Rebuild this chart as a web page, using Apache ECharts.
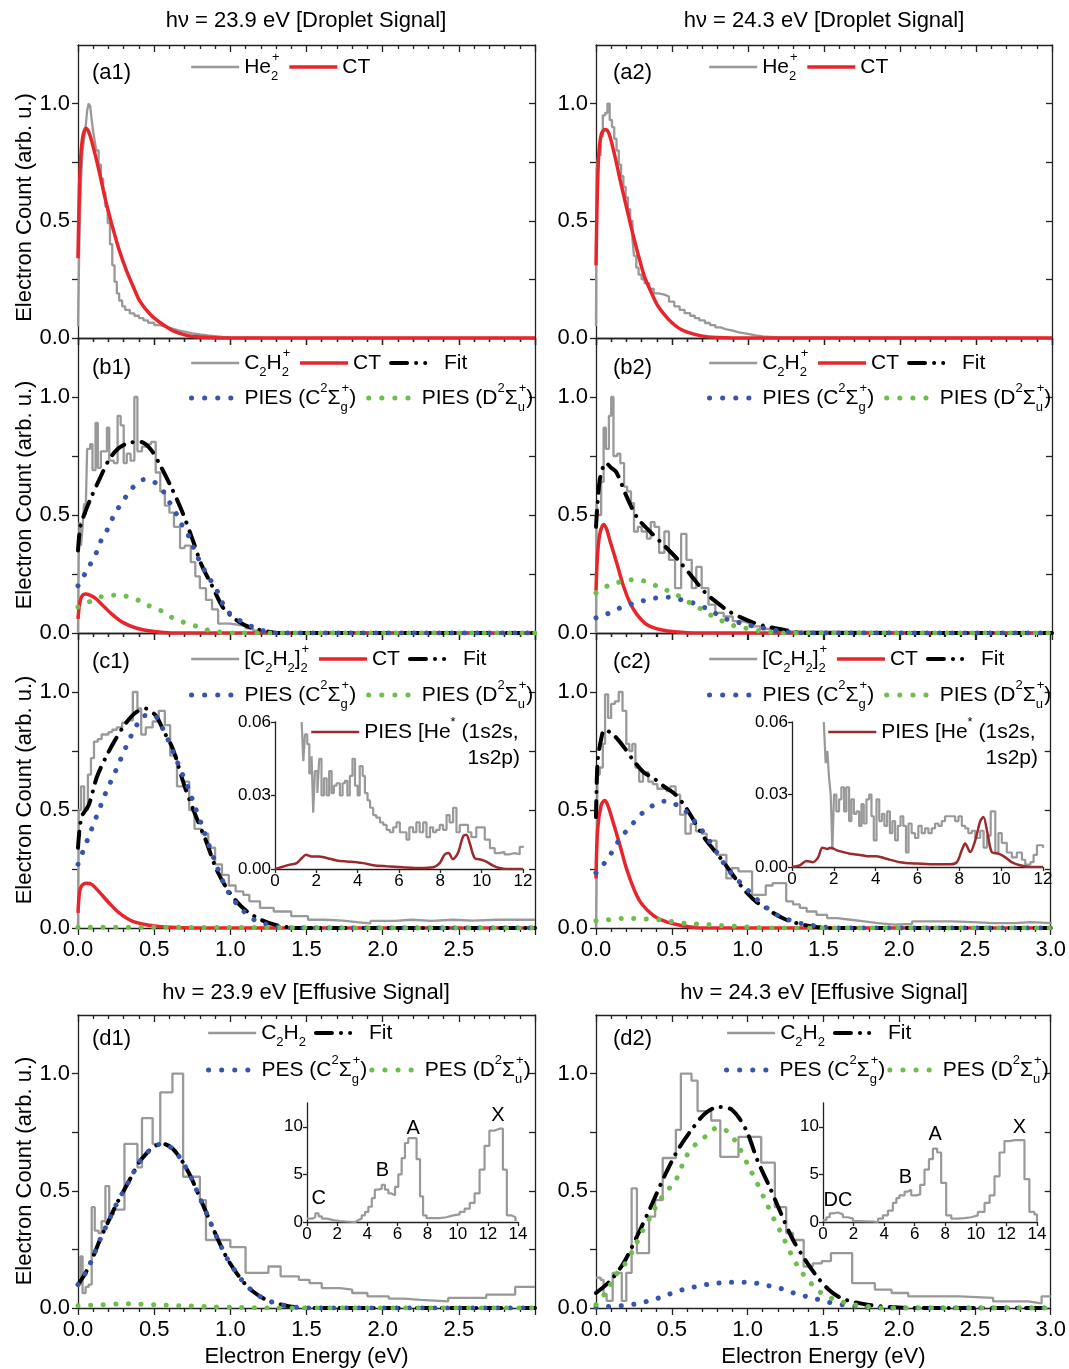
<!DOCTYPE html>
<html><head><meta charset="utf-8">
<script src="https://cdn.jsdelivr.net/npm/echarts@6/dist/echarts.min.js"></script>
<style>html,body{margin:0;padding:0;background:#fff}#c{width:1069px;height:1369px}</style>
</head><body><div id="c"></div>
<script>
// ---------------- DATA ----------------
// (a1) hv = 23.9 eV droplet, He2+ histogram and CT fit
const a1_He2 = [[0,0.05],[0.01,0.45],[0.02,0.68],[0.03,0.8],[0.04,0.85],[0.05,0.9],[0.06,0.97],[0.07,1.0],[0.08,0.99],[0.09,0.93],[0.1,0.88],[0.11,0.84],[0.12,0.8],[0.135,0.74],[0.15,0.68],[0.165,0.62],[0.18,0.56],[0.195,0.49],[0.21,0.4],[0.225,0.31],[0.24,0.24],[0.255,0.19],[0.27,0.16],[0.29,0.135],[0.31,0.12],[0.34,0.105],[0.37,0.095],[0.4,0.085],[0.43,0.075],[0.46,0.065],[0.5,0.055],[0.54,0.047],[0.58,0.04],[0.62,0.033],[0.66,0.027],[0.7,0.02],[0.75,0.015],[0.8,0.011],[0.85,0.008],[0.9,0.005],[0.95,0.003],[1.0,0.002],[1.1,0.001],[1.2,0],[3,0]];
const a1_CT = [[0,0.34],[0.008,0.6],[0.018,0.77],[0.032,0.86],[0.052,0.895],[0.07,0.88],[0.09,0.84],[0.136,0.72],[0.18,0.59],[0.226,0.475],[0.27,0.376],[0.317,0.29],[0.362,0.22],[0.407,0.156],[0.475,0.1],[0.543,0.064],[0.633,0.028],[0.724,0.01],[0.837,0.003],[0.95,0],[3,0]];
// (a2) hv = 24.3 eV droplet
const a2_He2 = [[0,0.05],[0.004,0.72],[0.015,0.78],[0.03,0.86],[0.045,0.95],[0.06,0.96],[0.075,1.0],[0.09,0.93],[0.105,0.9],[0.12,0.85],[0.135,0.8],[0.15,0.74],[0.165,0.69],[0.18,0.645],[0.195,0.6],[0.21,0.55],[0.225,0.5],[0.24,0.42],[0.25,0.35],[0.265,0.3],[0.28,0.27],[0.3,0.25],[0.32,0.234],[0.35,0.21],[0.38,0.19],[0.41,0.185],[0.45,0.177],[0.48,0.155],[0.515,0.135],[0.55,0.12],[0.583,0.106],[0.62,0.095],[0.65,0.085],[0.68,0.075],[0.717,0.064],[0.75,0.055],[0.785,0.045],[0.82,0.038],[0.852,0.031],[0.9,0.024],[0.94,0.018],[1.0,0.011],[1.05,0.007],[1.1,0.003],[1.2,0],[3,0]];
const a2_CT = [[0,0.31],[0.008,0.6],[0.018,0.78],[0.035,0.87],[0.06,0.89],[0.08,0.88],[0.1,0.84],[0.13,0.76],[0.16,0.67],[0.2,0.56],[0.24,0.45],[0.28,0.35],[0.32,0.26],[0.36,0.2],[0.4,0.145],[0.45,0.1],[0.5,0.065],[0.55,0.04],[0.6,0.025],[0.7,0.008],[0.8,0.002],[0.9,0],[3,0]];
// (b1)
const b1_C2H2 = [[0,0],[0.004,0.3],[0.01,0.47],[0.02,0.37],[0.03,0.45],[0.04,0.55],[0.05,0.5],[0.06,0.78],[0.08,0.8],[0.095,0.69],[0.115,0.89],[0.13,0.7],[0.15,0.77],[0.19,0.87],[0.205,0.73],[0.235,0.72],[0.26,0.92],[0.28,0.88],[0.3,0.72],[0.32,0.76],[0.345,0.73],[0.37,1.0],[0.39,0.77],[0.42,0.79],[0.45,0.8],[0.48,0.81],[0.51,0.68],[0.54,0.6],[0.57,0.54],[0.6,0.51],[0.63,0.45],[0.67,0.36],[0.7,0.37],[0.74,0.3],[0.77,0.24],[0.8,0.19],[0.84,0.14],[0.88,0.1],[0.92,0.04],[0.96,0.04],[1.0,0.035],[1.05,0.03],[1.1,0.02],[1.15,0.01],[1.2,0.005],[1.27,0],[3,0]];
const b1_CT = [[0,0.06],[0.01,0.12],[0.025,0.155],[0.05,0.165],[0.07,0.163],[0.113,0.148],[0.158,0.12],[0.226,0.078],[0.294,0.045],[0.385,0.02],[0.5,0.006],[0.61,0],[3,0]];
const b1_Fit = [[0,0.35],[0.015,0.45],[0.04,0.5],[0.09,0.58],[0.147,0.66],[0.2,0.73],[0.26,0.78],[0.33,0.805],[0.41,0.81],[0.475,0.78],[0.54,0.71],[0.61,0.62],[0.68,0.52],[0.75,0.4],[0.81,0.29],[0.88,0.2],[0.95,0.11],[1.02,0.064],[1.09,0.035],[1.15,0.02],[1.24,0.007],[1.31,0],[3,0]];
const b1_PC = [[0,0.2],[0.045,0.25],[0.08,0.29],[0.12,0.34],[0.15,0.39],[0.19,0.435],[0.226,0.486],[0.265,0.53],[0.31,0.573],[0.35,0.61],[0.43,0.65],[0.5,0.64],[0.56,0.6],[0.6,0.555],[0.645,0.505],[0.68,0.46],[0.72,0.42],[0.753,0.37],[0.787,0.32],[0.826,0.27],[0.864,0.23],[0.905,0.19],[0.946,0.13],[0.984,0.09],[1.07,0.05],[1.15,0.025],[1.23,0.007],[1.31,0],[3,0]];
const b1_PD = [[0,0.11],[0.08,0.134],[0.16,0.155],[0.24,0.16],[0.32,0.155],[0.4,0.138],[0.46,0.117],[0.54,0.096],[0.61,0.068],[0.695,0.045],[0.78,0.028],[0.86,0.011],[0.94,0.004],[1.02,0],[3,0]];
// (b2)
const b2_C2H2 = [[0,0],[0.003,0.55],[0.015,0.5],[0.034,0.64],[0.05,0.87],[0.065,0.78],[0.085,0.92],[0.1,1.0],[0.115,0.75],[0.14,0.76],[0.16,0.72],[0.185,0.62],[0.205,0.6],[0.23,0.55],[0.25,0.43],[0.275,0.45],[0.3,0.43],[0.335,0.4],[0.36,0.47],[0.385,0.45],[0.415,0.34],[0.45,0.43],[0.48,0.31],[0.52,0.19],[0.56,0.42],[0.595,0.31],[0.63,0.19],[0.66,0.28],[0.695,0.19],[0.74,0.12],[0.785,0.085],[0.84,0.07],[0.9,0.05],[0.96,0.042],[1.01,0.028],[1.08,0.017],[1.17,0.007],[1.28,0],[3,0]];
const b2_CT = [[0,0.18],[0.01,0.33],[0.025,0.42],[0.05,0.46],[0.07,0.44],[0.09,0.395],[0.135,0.3],[0.18,0.2],[0.224,0.127],[0.27,0.078],[0.336,0.035],[0.426,0.014],[0.54,0.004],[0.65,0],[3,0]];
const b2_Fit = [[0,0.45],[0.01,0.55],[0.025,0.65],[0.05,0.71],[0.065,0.72],[0.1,0.7],[0.135,0.68],[0.2,0.58],[0.27,0.49],[0.37,0.42],[0.45,0.37],[0.54,0.31],[0.63,0.24],[0.72,0.17],[0.8,0.127],[0.874,0.092],[0.953,0.066],[1.03,0.045],[1.12,0.028],[1.21,0.017],[1.32,0.003],[1.4,0],[3,0]];
const b2_PC = [[0,0.064],[0.078,0.082],[0.157,0.106],[0.235,0.123],[0.314,0.137],[0.392,0.148],[0.478,0.151],[0.56,0.141],[0.64,0.127],[0.72,0.106],[0.8,0.078],[0.874,0.055],[0.953,0.042],[1.03,0.03],[1.11,0.02],[1.19,0.01],[1.28,0.003],[1.36,0],[3,0]];
const b2_PD = [[0,0.17],[0.078,0.2],[0.157,0.216],[0.242,0.226],[0.318,0.22],[0.397,0.2],[0.47,0.18],[0.55,0.155],[0.62,0.127],[0.695,0.1],[0.762,0.073],[0.834,0.05],[0.908,0.031],[0.987,0.02],[1.065,0.01],[1.14,0.004],[1.22,0],[3,0]];
// (c1)
const c1_Dim = [[0,0],[0.005,0.5],[0.02,0.6],[0.04,0.5],[0.065,0.65],[0.085,0.72],[0.105,0.79],[0.13,0.8],[0.155,0.82],[0.2,0.83],[0.225,0.84],[0.255,0.85],[0.29,0.87],[0.325,0.88],[0.36,1.0],[0.39,0.93],[0.415,0.82],[0.445,0.85],[0.49,0.875],[0.53,0.92],[0.57,0.86],[0.605,0.73],[0.65,0.6],[0.695,0.62],[0.73,0.5],[0.765,0.42],[0.81,0.4],[0.855,0.34],[0.9,0.27],[0.945,0.225],[0.99,0.18],[1.035,0.155],[1.085,0.14],[1.125,0.113],[1.195,0.085],[1.285,0.07],[1.4,0.05],[1.51,0.035],[1.62,0.031],[1.74,0.025],[1.83,0.02],[1.92,0.03],[2.08,0.035],[2.19,0.03],[2.32,0.035],[2.46,0.031],[2.59,0.035],[2.75,0.035],[3,0.035]];
const c1_CT = [[0,0.064],[0.01,0.15],[0.025,0.18],[0.057,0.19],[0.09,0.185],[0.136,0.155],[0.204,0.106],[0.27,0.064],[0.36,0.028],[0.476,0.011],[0.61,0.003],[0.75,0],[3,0]];
const c1_Fit = [[0,0.34],[0.023,0.47],[0.07,0.52],[0.124,0.64],[0.18,0.72],[0.238,0.79],[0.305,0.86],[0.373,0.91],[0.44,0.93],[0.51,0.9],[0.566,0.83],[0.622,0.76],[0.7,0.6],[0.77,0.48],[0.84,0.37],[0.905,0.254],[0.975,0.17],[1.04,0.113],[1.11,0.07],[1.2,0.035],[1.29,0.014],[1.38,0.003],[1.46,0],[3,0]];
const c1_PC = [[0,0.27],[0.03,0.32],[0.06,0.37],[0.09,0.42],[0.12,0.47],[0.15,0.52],[0.18,0.57],[0.215,0.62],[0.25,0.67],[0.283,0.72],[0.317,0.77],[0.353,0.82],[0.396,0.87],[0.44,0.9],[0.5,0.9],[0.544,0.86],[0.59,0.8],[0.635,0.73],[0.68,0.66],[0.726,0.59],[0.77,0.51],[0.816,0.43],[0.86,0.35],[0.907,0.27],[0.95,0.2],[0.998,0.14],[1.066,0.085],[1.156,0.035],[1.247,0.014],[1.34,0.003],[1.43,0],[3,0]];
const c1_PD = [[0,0.003],[0.5,0.003],[1.0,0.002],[1.5,0.001],[2.0,0],[3,0]];
const c1in_Dim = [[1.29,0.06],[1.37,0.044],[1.45,0.055],[1.56,0.051],[1.66,0.039],[1.77,0.046],[1.85,0.023],[1.93,0.04],[2.05,0.031],[2.14,0.045],[2.25,0.03],[2.37,0.037],[2.5,0.03],[2.62,0.04],[2.74,0.031],[2.85,0.034],[2.98,0.035],[3.14,0.03],[3.27,0.035],[3.38,0.036],[3.5,0.03],[3.62,0.038],[3.75,0.045],[3.87,0.034],[4.0,0.03],[4.1,0.042],[4.24,0.038],[4.35,0.031],[4.48,0.028],[4.6,0.025],[4.75,0.022],[4.9,0.021],[5.08,0.019],[5.24,0.018],[5.4,0.016],[5.56,0.015],[5.72,0.017],[5.88,0.019],[6.04,0.015],[6.2,0.015],[6.36,0.012],[6.5,0.017],[6.68,0.015],[6.84,0.019],[7.0,0.015],[7.17,0.019],[7.33,0.013],[7.5,0.017],[7.65,0.015],[7.8,0.016],[7.97,0.018],[8.13,0.016],[8.3,0.022],[8.45,0.019],[8.62,0.025],[8.78,0.015],[8.94,0.018],[9.18,0.018],[9.34,0.015],[9.5,0.013],[9.74,0.017],[9.98,0.017],[10.15,0.012],[10.4,0.0085],[10.63,0.0065],[10.87,0.007],[11.1,0.006],[11.35,0.0065],[11.6,0.006],[11.84,0.009],[12,0.0095]];
const c1in_He = [[0,0],[0.4,0.001],[0.72,0.0018],[1.05,0.0024],[1.3,0.0045],[1.5,0.0058],[1.77,0.0051],[2.1,0.0051],[2.5,0.0045],[2.98,0.0035],[3.46,0.0031],[3.95,0.0028],[4.27,0.0024],[4.75,0.0015],[5.4,0.0011],[6.2,0.0007],[7.0,0.0004],[7.65,0.0007],[7.97,0.0024],[8.2,0.0058],[8.4,0.0065],[8.6,0.004],[8.85,0.0065],[9.1,0.0133],[9.26,0.014],[9.42,0.0106],[9.66,0.0045],[9.98,0.0038],[10.2,0.0031],[10.55,0.0014],[10.87,0.0004],[11.2,0],[12,0]];
// (c2)
const c2_Dim = [[0,0],[0.004,0.25],[0.01,0.65],[0.025,0.68],[0.045,0.78],[0.06,0.99],[0.08,0.89],[0.1,0.95],[0.125,0.96],[0.15,1.0],[0.175,0.92],[0.2,0.78],[0.22,0.75],[0.24,0.78],[0.26,0.68],[0.285,0.62],[0.31,0.66],[0.345,0.62],[0.375,0.61],[0.405,0.59],[0.465,0.58],[0.49,0.6],[0.525,0.565],[0.555,0.48],[0.59,0.4],[0.625,0.44],[0.66,0.41],[0.695,0.4],[0.73,0.37],[0.795,0.31],[0.86,0.21],[0.895,0.254],[0.94,0.24],[1.03,0.14],[1.12,0.18],[1.165,0.19],[1.255,0.113],[1.3,0.1],[1.345,0.085],[1.39,0.07],[1.455,0.056],[1.525,0.042],[1.59,0.035],[1.68,0.028],[1.77,0.021],[1.86,0.014],[1.97,0.017],[2.085,0.028],[2.22,0.028],[2.35,0.025],[2.49,0.021],[2.62,0.021],[2.76,0.025],[2.87,0.021],[3,0.025]];
const c2_CT = [[0,0.21],[0.011,0.42],[0.034,0.52],[0.056,0.54],[0.078,0.52],[0.112,0.45],[0.157,0.353],[0.2,0.254],[0.247,0.17],[0.29,0.113],[0.348,0.07],[0.404,0.042],[0.47,0.025],[0.54,0.014],[0.605,0.006],[0.7,0],[3,0]];
const c2_Fit = [[0,0.47],[0.005,0.62],[0.013,0.72],[0.034,0.8],[0.056,0.84],[0.112,0.82],[0.18,0.77],[0.247,0.71],[0.314,0.66],[0.38,0.635],[0.448,0.6],[0.516,0.57],[0.583,0.52],[0.65,0.45],[0.717,0.38],[0.785,0.325],[0.852,0.27],[0.92,0.21],[0.987,0.155],[1.054,0.113],[1.12,0.085],[1.19,0.056],[1.255,0.035],[1.323,0.021],[1.39,0.011],[1.457,0.004],[1.55,0],[3,0]];
const c2_PC = [[0,0.233],[0.05,0.27],[0.094,0.31],[0.14,0.36],[0.186,0.4],[0.24,0.44],[0.294,0.48],[0.365,0.515],[0.448,0.537],[0.52,0.525],[0.583,0.5],[0.64,0.46],[0.695,0.417],[0.75,0.367],[0.807,0.31],[0.874,0.245],[0.94,0.2],[1.01,0.155],[1.076,0.113],[1.143,0.078],[1.21,0.05],[1.29,0.031],[1.368,0.017],[1.435,0.01],[1.5,0.004],[1.6,0],[3,0]];
const c2_PD = [[0,0.031],[0.078,0.035],[0.168,0.04],[0.247,0.04],[0.325,0.038],[0.415,0.035],[0.493,0.028],[0.583,0.02],[0.66,0.017],[0.74,0.014],[0.83,0.01],[0.92,0.007],[1.01,0.004],[1.15,0],[3,0]];
const c2in_Dim = [[1.52,0.06],[1.61,0.043],[1.69,0.048],[1.77,0.037],[1.85,0.03],[1.93,0.007],[2.01,0.03],[2.12,0.023],[2.25,0.028],[2.36,0.033],[2.49,0.023],[2.6,0.033],[2.73,0.019],[2.84,0.028],[2.96,0.022],[3.08,0.023],[3.21,0.017],[3.32,0.026],[3.43,0.018],[3.56,0.028],[3.69,0.03],[3.8,0.021],[3.91,0.011],[4.04,0.028],[4.17,0.019],[4.3,0.022],[4.42,0.017],[4.55,0.023],[4.68,0.014],[4.8,0.019],[4.93,0.011],[5.06,0.017],[5.19,0.021],[5.32,0.017],[5.45,0.006],[5.57,0.018],[5.72,0.014],[5.88,0.012],[6.04,0.017],[6.2,0.014],[6.36,0.016],[6.52,0.014],[6.68,0.016],[6.84,0.018],[7.0,0.017],[7.16,0.019],[7.32,0.021],[7.55,0.021],[7.8,0.019],[7.96,0.021],[8.12,0.017],[8.28,0.016],[8.43,0.014],[8.6,0.015],[8.76,0.012],[9.0,0.015],[9.16,0.008],[9.32,0.013],[9.5,0.023],[9.72,0.006],[9.87,0.014],[10.03,0.01],[10.27,0.006],[10.51,0.004],[10.75,0.006],[10.99,0.003],[11.15,0.001],[11.4,0.002],[11.55,0.005],[11.71,0.009],[12,0.008]];
const c2in_He = [[0,0],[0.37,0.0007],[0.69,0.0025],[1.0,0.002],[1.25,0.004],[1.45,0.008],[1.68,0.0075],[1.88,0.008],[2.12,0.007],[2.44,0.0062],[2.76,0.0055],[3.24,0.005],[3.72,0.0044],[4.04,0.0045],[4.52,0.0034],[5.16,0.002],[5.96,0.0014],[6.76,0.0011],[7.56,0.0011],[7.88,0.002],[8.12,0.007],[8.28,0.0097],[8.52,0.0062],[8.76,0.011],[9.0,0.019],[9.15,0.0207],[9.35,0.0138],[9.55,0.0062],[9.87,0.0055],[10.2,0.004],[10.5,0.002],[10.9,0.0007],[11.4,0],[12,0]];
// (d1) effusive 23.9 eV
const d1_C2H2 = [[0,0.1],[0.015,0.22],[0.03,0.064],[0.05,0.09],[0.07,0.1],[0.09,0.43],[0.11,0.33],[0.135,0.32],[0.155,0.37],[0.18,0.52],[0.205,0.4],[0.235,0.42],[0.305,0.7],[0.39,0.6],[0.42,0.81],[0.49,0.7],[0.54,0.92],[0.62,1.0],[0.69,0.56],[0.8,0.46],[0.84,0.29],[1.0,0.26],[1.1,0.15],[1.25,0.177],[1.33,0.135],[1.45,0.12],[1.52,0.106],[1.6,0.085],[1.72,0.078],[1.8,0.064],[1.9,0.05],[2.04,0.04],[2.14,0.035],[2.25,0.028],[2.43,0.043],[2.68,0.057],[2.87,0.09],[3,0.09]];
const d1_Fit = [[0,0.1],[0.05,0.15],[0.1,0.22],[0.15,0.3],[0.2,0.37],[0.25,0.44],[0.3,0.5],[0.35,0.56],[0.4,0.62],[0.45,0.66],[0.5,0.69],[0.56,0.7],[0.62,0.68],[0.68,0.63],[0.74,0.56],[0.8,0.47],[0.86,0.38],[0.92,0.29],[0.98,0.21],[1.04,0.15],[1.1,0.1],[1.16,0.065],[1.22,0.04],[1.3,0.02],[1.38,0.008],[1.46,0.002],[1.55,0],[3,0]];
const d1_PC = [[0,0.1],[0.05,0.15],[0.1,0.22],[0.15,0.3],[0.2,0.37],[0.25,0.44],[0.3,0.5],[0.35,0.56],[0.4,0.62],[0.45,0.66],[0.5,0.69],[0.56,0.7],[0.62,0.68],[0.68,0.63],[0.74,0.56],[0.8,0.47],[0.86,0.38],[0.92,0.29],[0.98,0.21],[1.04,0.15],[1.1,0.1],[1.16,0.065],[1.22,0.04],[1.3,0.02],[1.38,0.008],[1.46,0.002],[1.55,0],[3,0]];
const d1_PD = [[0,0.01],[0.16,0.014],[0.33,0.018],[0.5,0.014],[0.66,0.01],[0.84,0.006],[1.02,0.003],[1.3,0],[3,0]];
const d1in_PES = [[0,0.35],[0.33,0.5],[0.55,0.9],[0.77,0.6],[0.99,0.35],[1.32,0.2],[1.76,0.1],[2.2,0.05],[2.6,0],[3.2,0.2],[3.4,0.35],[3.63,0.7],[3.85,1.06],[4.07,1.6],[4.3,2.5],[4.5,3.4],[4.74,3.5],[4.96,3.9],[5.17,3.4],[5.4,3.0],[5.6,2.8],[5.84,3.7],[6.06,5.0],[6.28,6.7],[6.5,8.3],[6.72,8.8],[7.0,8.8],[7.27,6.6],[7.5,2.7],[7.7,0.7],[7.93,0.4],[8.37,0.4],[8.81,0.5],[9.25,0.7],[9.7,0.8],[10.13,1.06],[10.46,1.4],[10.8,2.0],[11.12,3.0],[11.45,5.5],[11.78,8.0],[12.1,9.6],[12.44,9.8],[12.77,9.8],[13.0,5.5],[13.26,0.7],[13.55,0.5],[13.83,0.1]];
const d1in_marks = [['C',0.77,2.5],['B',5.0,5.4],['A',7.05,9.8],['X',12.67,11.2]];
// (d2) effusive 24.3 eV
const d2_C2H2 = [[0,0.13],[0.03,0.12],[0.05,0.06],[0.07,0.03],[0.11,0.15],[0.17,0.03],[0.2,0.15],[0.235,0.51],[0.27,0.234],[0.35,0.39],[0.39,0.46],[0.44,0.64],[0.527,0.76],[0.56,1.0],[0.63,0.97],[0.67,0.84],[0.76,0.8],[0.82,0.645],[0.94,0.73],[1.09,0.62],[1.18,0.43],[1.255,0.32],[1.3,0.29],[1.37,0.177],[1.43,0.19],[1.49,0.2],[1.55,0.234],[1.69,0.106],[1.84,0.078],[1.95,0.064],[2.06,0.05],[2.4,0.043],[2.62,0.028],[2.85,0.02],[2.94,0.05],[3,0.05]];
const d2_Fit = [[0,0.064],[0.09,0.113],[0.18,0.19],[0.27,0.305],[0.36,0.43],[0.45,0.56],[0.54,0.674],[0.63,0.76],[0.72,0.83],[0.81,0.858],[0.9,0.844],[0.99,0.76],[1.065,0.63],[1.143,0.52],[1.22,0.404],[1.3,0.29],[1.38,0.206],[1.457,0.135],[1.536,0.078],[1.614,0.043],[1.7,0.026],[1.79,0.014],[1.88,0.007],[1.97,0.003],[2.05,0],[3,0]];
const d2_PC = [[0,0.003],[0.17,0.01],[0.26,0.017],[0.336,0.028],[0.415,0.043],[0.49,0.061],[0.57,0.078],[0.65,0.09],[0.73,0.1],[0.807,0.106],[0.886,0.11],[0.975,0.11],[1.054,0.106],[1.13,0.096],[1.21,0.085],[1.29,0.067],[1.37,0.052],[1.446,0.04],[1.536,0.024],[1.625,0.014],[1.715,0.007],[1.79,0.003],[1.9,0],[3,0]];
const d2_PD = [[0,0.014],[0.078,0.078],[0.123,0.135],[0.18,0.177],[0.247,0.25],[0.3,0.32],[0.36,0.39],[0.415,0.454],[0.47,0.5],[0.527,0.546],[0.594,0.645],[0.66,0.7],[0.74,0.74],[0.8,0.77],[0.874,0.75],[0.94,0.69],[1.01,0.6],[1.065,0.53],[1.12,0.454],[1.177,0.376],[1.233,0.305],[1.29,0.227],[1.345,0.163],[1.4,0.12],[1.457,0.078],[1.525,0.05],[1.614,0.028],[1.7,0.014],[1.79,0.007],[1.9,0],[3,0]];
const d2in_PES = [[0,0.2],[0.22,0.5],[0.44,0.9],[0.65,1.0],[0.98,0.8],[1.3,0.5],[1.63,0.35],[1.96,0.1],[2.3,0.05],[3.27,0],[3.6,0.35],[3.92,0.7],[4.25,1.2],[4.57,2.0],[4.8,2.5],[5.0,2.8],[5.34,3.2],[5.56,3.4],[5.77,2.8],[6.1,2.9],[6.36,3.9],[6.64,5.5],[6.93,6.6],[7.19,7.7],[7.47,7.3],[7.73,4.1],[8.06,0.7],[8.39,0.35],[8.82,0.4],[9.26,0.5],[9.69,0.7],[10.13,1.06],[10.57,2.0],[10.9,2.8],[11.22,4.8],[11.55,7.3],[11.87,8.5],[12.2,8.6],[12.53,8.6],[12.85,8.6],[13.18,4.5],[13.5,1.06],[13.83,0.8],[14,0]];
const d2in_marks = [['DC',0.98,2.3],['B',5.4,4.7],['A',7.34,9.2],['X',12.85,9.9]];

const yTicksMain = [0,0.25,0.5,0.75,1.0];
const yLabelsMain = [0,0.5,1.0];

// ---------------- STYLE / LAYOUT ----------------
const FONT = '"Liberation Sans", Arial, Helvetica, sans-serif';
const AX = '#222';
const COL = {gray:'#999999', red:'#e8252b', black:'#000', blue:'#3855ad', green:'#6dbf4b', dark:'#9a2a2b'};
const PX = [{x:78, w:457}, {x:596, w:456}];
const ROWS = [{t:45,h:293,np:32},{t:338,h:295,np:19},{t:633,h:295,np:19},{t:1015,h:293,np:19}];
const isMul = (v, s) => Math.abs(v / s - Math.round(v / s)) < 1e-6;

const grids = [], xAxes = [], yAxes = [], series = [], legends = [], graphics = [];
const ls = {color:AX, width:1.3};
const lbl = {fontSize:22, fontFamily:FONT, color:'#000'};

function addPanel(col, row, opt) {
  const P = PX[col], Rw = ROWS[row], g = grids.length;
  grids.push({left:P.x, top:Rw.t, width:P.w, height:Rw.h});
  const xi = xAxes.length, yi = yAxes.length;
  const base = {type:'value', gridIndex:g, splitLine:{show:false}, axisLine:{show:true, onZero:false, lineStyle:ls}};
  xAxes.push(Object.assign({}, base, {position:'bottom', min:0, max:3, interval:0.5,
    axisTick:{show:true, inside:false, length:7, lineStyle:ls},
    minorTick:{show:true, splitNumber:5, length:4, lineStyle:ls},
    axisLabel:Object.assign({show:!!opt.xLabels, margin:11, formatter:v => (isMul(v,0.5) && !(col===0 && v>2.9)) ? v.toFixed(1) : ''}, lbl),
    name:opt.xName||'', nameLocation:'middle', nameGap:38, nameTextStyle:lbl}));
  xAxes.push(Object.assign({}, base, {position:'top', min:0, max:3, interval:0.5,
    axisTick:{show:true, inside:true, length:7, lineStyle:ls},
    minorTick:{show:true, splitNumber:5, length:4, lineStyle:ls},
    axisLabel:{show:false}}));
  yAxes.push(Object.assign({}, base, {position:'left', min:0, max:1.25, interval:0.25,
    axisTick:{show:true, inside:false, length:6, lineStyle:ls, customValues:yTicksMain},
    axisLabel:Object.assign({show:true, margin:8, customValues:yLabelsMain, formatter:v => (isMul(v,0.5) && v<1.1) ? v.toFixed(1) : ''}, lbl),
    name:opt.yName||'', nameLocation:'middle', nameGap:42, nameTextStyle:Object.assign({padding:[0,Rw.np,0,0]}, lbl)}));
  yAxes.push(Object.assign({}, base, {position:'right', min:0, max:1.25, interval:0.25,
    axisTick:{show:true, inside:true, length:6, lineStyle:ls, customValues:yTicksMain},
    axisLabel:{show:false}}));
  return {x:xi, y:yi};
}

function addInset(left, top, w, h, xmax, xint, ymax, yint, yTicks, yfmt) {
  const g = grids.length;
  grids.push({left, top, width:w, height:h});
  const xi = xAxes.length, yi = yAxes.length;
  const f = {fontSize:17, fontFamily:FONT, color:'#000'};
  xAxes.push({type:'value', gridIndex:g, position:'bottom', min:0, max:xmax, interval:xint,
    axisLine:{onZero:false, lineStyle:ls}, axisTick:{inside:false, length:4, lineStyle:ls},
    splitLine:{show:false}, axisLabel:Object.assign({margin:4}, f)});
  yAxes.push({type:'value', gridIndex:g, position:'left', min:0, max:ymax, interval:yint,
    axisLine:{onZero:false, lineStyle:ls}, axisTick:{inside:false, length:4, lineStyle:ls, customValues:yTicks},
    splitLine:{show:false}, axisLabel:Object.assign({margin:4, customValues:yTicks, formatter:yfmt}, f)});
  return {x:xi, y:yi};
}

const STY = {
  gray:  {step:'end', lineStyle:{color:COL.gray, width:2.3}, itemStyle:{color:COL.gray}, z:2},
  red:   {smooth:0.3, lineStyle:{color:COL.red, width:3.5}, itemStyle:{color:COL.red}, z:3},
  fit:   {smooth:0.3, lineStyle:{color:COL.black, width:4, type:[16,9,0.1,9], cap:'round'}, itemStyle:{color:COL.black}, z:4},
  blue:  {smooth:0.3, lineStyle:{color:COL.blue, width:5, type:[0.1,12.5], cap:'round'}, itemStyle:{color:COL.blue}, z:5},
  green: {smooth:0.3, lineStyle:{color:COL.green, width:5, type:[0.1,12.5], cap:'round'}, itemStyle:{color:COL.green}, z:5},
  dark:  {smooth:0.3, lineStyle:{color:COL.dark, width:2.5}, itemStyle:{color:COL.dark}, z:7},
  grayIn:{step:'end', lineStyle:{color:COL.gray, width:2.2}, itemStyle:{color:COL.gray}, z:6}
};
function ln(ax, name, data, sty, extra) {
  series.push(Object.assign({type:'line', name, xAxisIndex:ax.x, yAxisIndex:ax.y, data, symbol:'none',
    silent:true, animation:false, clip:true}, JSON.parse(JSON.stringify(STY[sty])), extra||{}));
}

// legend text (rich) and legend sample styles
const LT = {
  'He2+':'He{sb|2}{sup|+}', 'C2H2+':'C{sub|2}H{sb|2}{sup|+}', '[C2H2]2+':'[C{sub|2}H{sub|2}]{sb|2}{sup|+}',
  'C2H2':'C{sub|2}H{sub|2}', 'CT':'CT', 'Fit':'Fit',
  'PIES C':'PIES (C{sup|2}Σ{sb|g}{sup|+})', 'PIES D':'PIES (D{sup|2}Σ{sb|u}{sup|+})',
  'PES C':'PES (C{sup|2}Σ{sb|g}{sup|+})', 'PES D':'PES (D{sup|2}Σ{sb|u}{sup|+})',
  'PIES He*':'PIES [He{sup|*} (1s2s,'
};
const GRAYLS = {color:COL.gray, width:2.3, type:'solid'};
const LS = {
  'He2+':GRAYLS, 'C2H2+':GRAYLS, '[C2H2]2+':GRAYLS, 'C2H2':GRAYLS,
  'CT':{color:COL.red, width:3.5, type:'solid'},
  'Fit':{color:COL.black, width:4, type:[16,9,0.1,9,0.1,40], cap:'round'},
  'PIES C':{color:COL.blue, width:5, type:[0.1,13], cap:'round'}, 'PES C':{color:COL.blue, width:5, type:[0.1,13], cap:'round'},
  'PIES D':{color:COL.green, width:5, type:[0.1,13], cap:'round'}, 'PES D':{color:COL.green, width:5, type:[0.1,13], cap:'round'},
  'PIES He*':{color:COL.dark, width:2.5, type:'solid'}
};
const RICH = {
  sub:{fontSize:13, lineHeight:13, verticalAlign:'bottom', fontFamily:FONT, color:'#000'},
  sb:{fontSize:13, lineHeight:13, verticalAlign:'bottom', width:1, fontFamily:FONT, color:'#000'},
  sup:{fontSize:13, lineHeight:13, verticalAlign:'top', fontFamily:FONT, color:'#000'}
};
const NOSYM = {color:'rgba(0,0,0,0)', borderWidth:0, opacity:0};
function legend(left, cy, names, gap) {
  legends.push({left, top:cy-16, width:700, orient:'horizontal', itemWidth:48, itemHeight:14, itemGap:gap==null?8:gap,
    padding:0, selectedMode:false, data:names.map(n => ({name:n, lineStyle:LS[n], itemStyle:NOSYM})),
    formatter:n => LT[n], textStyle:{fontSize:21, fontFamily:FONT, color:'#000', lineHeight:32, rich:RICH}});
}
function txt(x, y, s, align, size) {
  graphics.push({type:'text', x, y, silent:true, style:{text:s, fontSize:size||22, fontFamily:FONT, fill:'#000', align:align||'left', verticalAlign:'middle'}});
}

// ---------------- PANELS ----------------
const YN = 'Electron Count (arb. u.)', XN = 'Electron Energy (eV)';
const A1 = addPanel(0,0,{yName:YN}), A2 = addPanel(1,0,{});
const B1 = addPanel(0,1,{yName:YN}), B2 = addPanel(1,1,{});
const C1 = addPanel(0,2,{yName:YN, xLabels:true}), C2 = addPanel(1,2,{xLabels:true});
const D1 = addPanel(0,3,{yName:YN, xLabels:true, xName:XN}), D2 = addPanel(1,3,{xLabels:true, xName:XN});
const fmt2 = v => v.toFixed(2), fmt0 = v => (isMul(v,5) ? String(v) : '');
const C1i = addInset(275, 722, 248, 147, 12, 2, 0.06, 0.03, [0,0.03,0.06], fmt2);
const C2i = addInset(792, 722, 251, 145, 12, 2, 0.06, 0.03, [0,0.03,0.06], fmt2);
const D1i = addInset(307, 1103, 211, 119, 14, 2, 12.5, 5, [0,5,10], fmt0);
const D2i = addInset(823, 1103, 214, 119, 14, 2, 12.5, 5, [0,5,10], fmt0);

ln(A1,'He2+',a1_He2,'gray'); ln(A1,'CT',a1_CT,'red');
ln(A2,'He2+',a2_He2,'gray'); ln(A2,'CT',a2_CT,'red');
ln(B1,'C2H2+',b1_C2H2,'gray'); ln(B1,'CT',b1_CT,'red'); ln(B1,'Fit',b1_Fit,'fit'); ln(B1,'PIES C',b1_PC,'blue'); ln(B1,'PIES D',b1_PD,'green');
ln(B2,'C2H2+',b2_C2H2,'gray'); ln(B2,'CT',b2_CT,'red'); ln(B2,'Fit',b2_Fit,'fit'); ln(B2,'PIES C',b2_PC,'blue'); ln(B2,'PIES D',b2_PD,'green');
ln(C1,'[C2H2]2+',c1_Dim,'gray'); ln(C1,'CT',c1_CT,'red'); ln(C1,'Fit',c1_Fit,'fit'); ln(C1,'PIES C',c1_PC,'blue'); ln(C1,'PIES D',c1_PD,'green');
ln(C2,'[C2H2]2+',c2_Dim,'gray'); ln(C2,'CT',c2_CT,'red'); ln(C2,'Fit',c2_Fit,'fit'); ln(C2,'PIES C',c2_PC,'blue'); ln(C2,'PIES D',c2_PD,'green');
ln(C1i,'[C2H2]2+ inset',c1in_Dim,'grayIn'); ln(C1i,'PIES He*',c1in_He,'dark');
ln(C2i,'[C2H2]2+ inset',c2in_Dim,'grayIn'); ln(C2i,'PIES He*',c2in_He,'dark');
ln(D1,'C2H2',d1_C2H2,'gray'); ln(D1,'Fit',d1_Fit,'fit'); ln(D1,'PES C',d1_PC,'blue'); ln(D1,'PES D',d1_PD,'green');
ln(D2,'C2H2',d2_C2H2,'gray'); ln(D2,'Fit',d2_Fit,'fit'); ln(D2,'PES C',d2_PC,'blue'); ln(D2,'PES D',d2_PD,'green');
const mk = arr => ({symbol:'rect', symbolSize:1, silent:true, itemStyle:{color:'rgba(0,0,0,0)'},
  label:{show:true, position:'inside', fontSize:20, fontFamily:FONT, color:'#000', formatter:p => p.name},
  data:arr.map(m => ({name:m[0], coord:[m[1], m[2]]}))});
ln(D1i,'C2H2 inset',d1in_PES,'grayIn',{markPoint:mk(d1in_marks)});
ln(D2i,'C2H2 inset',d2in_PES,'grayIn',{markPoint:mk(d2in_marks)});

// ---------------- LEGENDS ----------------
legend(190, 67, ['He2+','CT']); legend(708, 67, ['He2+','CT']);
legend(190, 363, ['C2H2+','CT','Fit']); legend(189, 398, ['PIES C','PIES D'], 10);
legend(708, 363, ['C2H2+','CT','Fit']); legend(707, 398, ['PIES C','PIES D'], 10);
legend(190, 659, ['[C2H2]2+','CT','Fit']); legend(189, 695, ['PIES C','PIES D'], 10);
legend(708, 659, ['[C2H2]2+','CT','Fit']); legend(707, 695, ['PIES C','PIES D'], 10);
legend(310, 732, ['PIES He*']); legend(827, 732, ['PIES He*']);
legend(207, 1033, ['C2H2','Fit']); legend(206, 1070, ['PES C','PES D'], 2);
legend(726, 1033, ['C2H2','Fit']); legend(724, 1070, ['PES C','PES D'], 2);

// ---------------- TEXT ----------------
txt(306, 21, 'hν = 23.9 eV [Droplet Signal]', 'center');
txt(824, 21, 'hν = 24.3 eV [Droplet Signal]', 'center');
txt(306, 993, 'hν = 23.9 eV [Effusive Signal]', 'center');
txt(824, 993, 'hν = 24.3 eV [Effusive Signal]', 'center');
[['(a1)','(a2)',73],['(b1)','(b2)',368],['(c1)','(c2)',662],['(d1)','(d2)',1039]].forEach(r => { txt(92, r[2], r[0]); txt(613, r[2], r[1]); });
txt(520, 758, '1s2p)', 'right', 21); txt(1038, 758, '1s2p)', 'right', 21);

const chart = echarts.init(document.getElementById('c'), null, {renderer:'canvas'});
chart.setOption({
  backgroundColor:'#fff', animation:false, textStyle:{fontFamily:FONT},
  grid:grids, xAxis:xAxes, yAxis:yAxes, series, legend:legends, graphic:graphics
});
</script></body></html>
